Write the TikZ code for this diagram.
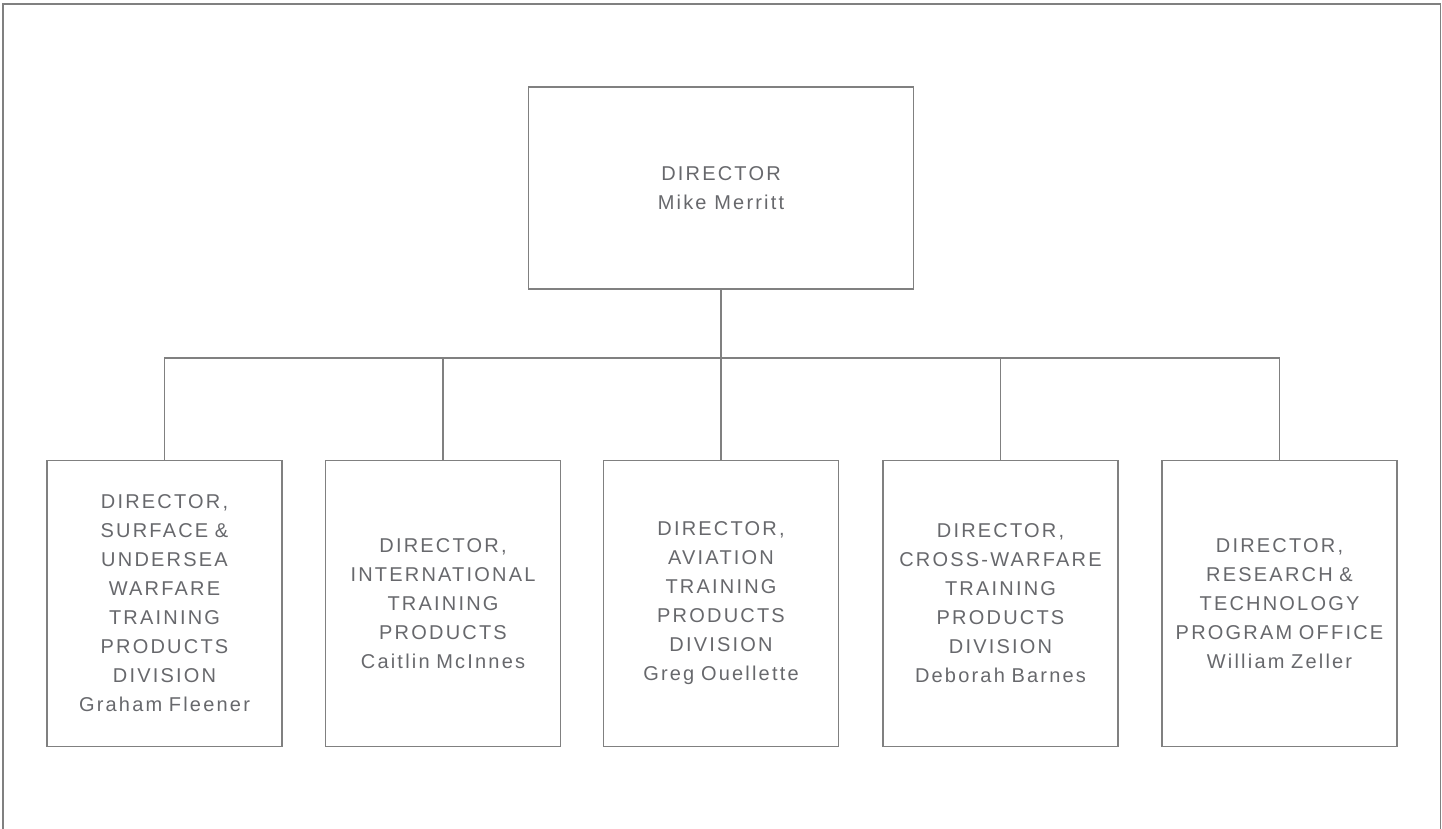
\documentclass[tikz,border=0pt]{standalone}
\usepackage{fontspec}
\setmainfont{Liberation Sans}[LetterSpace=11]
\definecolor{linegray}{HTML}{808080}
\definecolor{textgray}{HTML}{67686C}
\tikzset{
  orgbox/.style={draw=linegray, line width=1.3pt, align=center, text=textgray,
    font=\fontsize{20}{29}\selectfont, inner sep=2pt},
  unitbox/.style={orgbox, minimum width=235pt, minimum height=286pt, text width=231pt},
  link/.style={draw=linegray, line width=1.3pt},
}
\begin{document}
\begin{tikzpicture}[x=1pt, y=-1pt]
\useasboundingbox (0,0) rectangle (1442,829);
\draw[link, line width=1.6pt] (3,829) -- (3,4) -- (1440.5,4) -- (1440.5,829);

\node[orgbox, minimum width=385pt, minimum height=202pt] (top) at (721,188) {DIRECTOR\\Mike Merritt};

\node[unitbox] (b1) at (164.5,603.5) {DIRECTOR,\\SURFACE \&\\UNDERSEA\\WARFARE\\TRAINING\\PRODUCTS\\DIVISION\\Graham Fleener};
\node[unitbox] (b2) at (443,603.5) {DIRECTOR,\\INTERNATIONAL\\TRAINING\\PRODUCTS\\Caitlin McInnes};
\node[unitbox] (b3) at (721,603.5) {DIRECTOR,\\AVIATION\\TRAINING\\PRODUCTS\\DIVISION\\Greg Ouellette};
\node[unitbox] (b4) at (1000.5,603.5) {DIRECTOR,\\CROSS-WARFARE\\TRAINING\\PRODUCTS\\DIVISION\\Deborah Barnes};
\node[unitbox] (b5) at (1279.5,603.5) {DIRECTOR,\\RESEARCH \&\\TECHNOLOGY\\PROGRAM OFFICE\\William Zeller};

\coordinate (bus) at (721,358);
\draw[link] (top.south) -- (bus);
\foreach \b in {b1,b2,b3,b4,b5} {
  \draw[link] (\b.north) |- (bus);
}
\end{tikzpicture}
\end{document}
